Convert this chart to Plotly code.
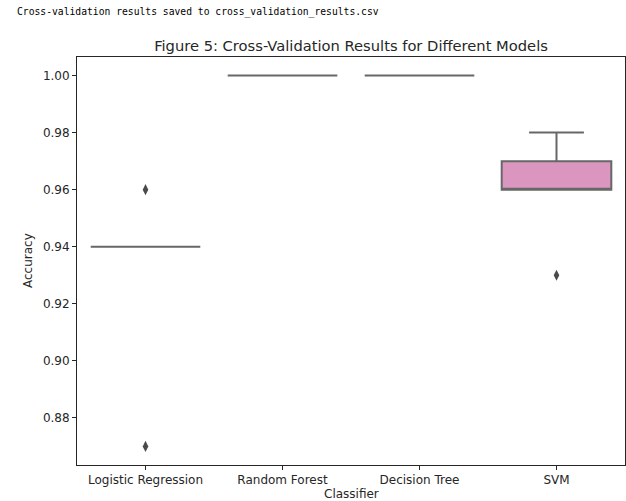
import colorsys
import numpy as np
import plotly.graph_objects as go

# Per-fold cross-validation accuracy for each classifier
classifiers = ["Logistic Regression", "Random Forest", "Decision Tree", "SVM"]
acc_logreg = [0.94, 0.94, 0.94, 0.96, 0.87]
acc_forest = [1.00, 1.00, 1.00, 1.00, 1.00]
acc_tree = [1.00, 1.00, 1.00, 1.00, 1.00]
acc_svm = [0.96, 0.96, 0.97, 0.98, 0.93]
fold_scores = [acc_logreg, acc_forest, acc_tree, acc_svm]

y_ticks = [0.88, 0.90, 0.92, 0.94, 0.96, 0.98, 1.00]

# Set2 palette, desaturated like a seaborn boxplot fill
set2 = ["#66C2A5", "#FC8D62", "#8DA0CB", "#E78AC3"]


def desaturate(hex_color, prop=0.75):
    r, g, b = (int(hex_color[i:i + 2], 16) / 255 for i in (1, 3, 5))
    h, l, s = colorsys.rgb_to_hls(r, g, b)
    r, g, b = colorsys.hls_to_rgb(h, l, s * prop)
    return "#%02x%02x%02x" % (round(r * 255), round(g * 255), round(b * 255))


def box_stats(values):
    """Quartiles, 1.5*IQR whiskers and outliers (numpy linear percentiles)."""
    v = np.asarray(values, dtype=float)
    q1, med, q3 = np.percentile(v, [25, 50, 75])
    iqr = q3 - q1
    inside = v[(v >= q1 - 1.5 * iqr) & (v <= q3 + 1.5 * iqr)]
    outliers = v[(v < q1 - 1.5 * iqr) | (v > q3 + 1.5 * iqr)]
    return q1, med, q3, inside.min(), inside.max(), outliers


fills = [desaturate(c) for c in set2]
line_gray = "#676767"
ink = "#262626"
font = "DejaVu Sans"
tick_size = 12
label_size = 12

fig = go.Figure()
for name, scores, fill in zip(classifiers, fold_scores, fills):
    q1, med, q3, lo, hi, outliers = box_stats(scores)
    fig.add_trace(go.Box(
        x=[name],
        q1=[q1], median=[med], q3=[q3],
        lowerfence=[lo], upperfence=[hi],
        name=name,
        width=0.8,
        fillcolor=fill,
        line=dict(color=line_gray, width=2),
        boxpoints=False,
        whiskerwidth=0.5,
        showlegend=False,
        hoverinfo="skip",
    ))
    if len(outliers):
        fig.add_trace(go.Scatter(
            x=[name] * len(outliers),
            y=outliers.tolist(),
            mode="markers",
            marker=dict(symbol="diamond-tall", size=8, color="#4a4a4a",
                        line=dict(width=0)),
            showlegend=False,
            hoverinfo="skip",
        ))

fig.update_layout(
    width=626,
    height=501,
    margin=dict(l=77, r=1, t=57, b=36),
    paper_bgcolor="white",
    plot_bgcolor="white",
    boxmode="overlay",
    font=dict(family=font, color=ink, size=tick_size),
    title=dict(
        text="Figure 5: Cross-Validation Results for Different Models",
        x=351 / 626, xanchor="center",
        y=1 - 46 / 501, yanchor="middle",
        font=dict(family=font, size=14.7, color=ink),
    ),
    xaxis=dict(
        type="category",
        categoryorder="array",
        categoryarray=classifiers,
        range=[-0.5, 3.5],
        showline=True, mirror=True, linecolor=ink, linewidth=1,
        ticks="outside", ticklen=4, tickcolor=ink, tickwidth=1,
        showgrid=False, zeroline=False,
        tickfont=dict(family=font, size=tick_size, color=ink),
    ),
    yaxis=dict(
        range=[0.8635, 1.0065],
        tickvals=y_ticks,
        tickformat=".2f",
        showline=True, mirror=True, linecolor=ink, linewidth=1,
        ticks="outside", ticklen=4, tickcolor=ink, tickwidth=1,
        showgrid=False, zeroline=False,
        tickfont=dict(family=font, size=tick_size, color=ink),
    ),
    annotations=[
        dict(
            text="Cross-validation results saved to cross_validation_results.csv",
            xref="paper", yref="paper",
            x=(15 - 77) / 548, y=(465 - 12) / 408,
            xanchor="left", yanchor="middle",
            showarrow=False,
            font=dict(family="DejaVu Sans Mono", size=9.7, color="#000000"),
        ),
        dict(
            text="Accuracy",
            xref="paper", yref="paper",
            x=(28 - 77) / 548, y=0.5,
            xanchor="center", yanchor="middle",
            textangle=-90, showarrow=False,
            font=dict(family=font, size=label_size, color=ink),
        ),
        dict(
            text="Classifier",
            xref="paper", yref="paper",
            x=(351 - 77) / 548, y=(465 - 494) / 408,
            xanchor="center", yanchor="middle",
            showarrow=False,
            font=dict(family=font, size=label_size, color=ink),
        ),
    ],
)

fig.write_html("out.html")
